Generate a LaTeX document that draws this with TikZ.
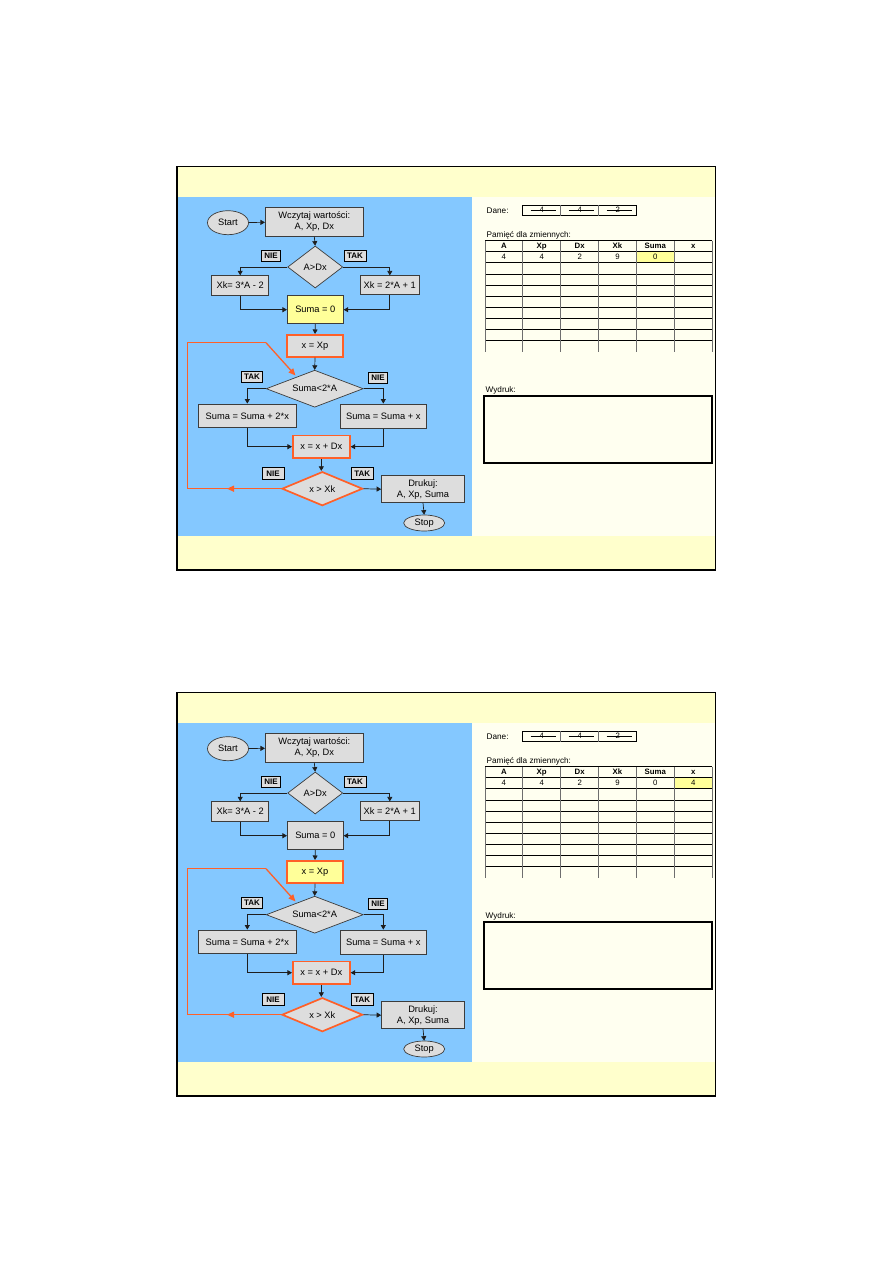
\documentclass[tikz,border=0pt]{standalone}
\usepackage{fontspec}
\setmainfont{Liberation Sans}
\usetikzlibrary{shapes.geometric,arrows.meta,calc}
\definecolor{slblue}{RGB}{132,200,255}
\definecolor{hdryellow}{RGB}{255,255,204}
\definecolor{cream}{RGB}{255,255,240}
\definecolor{boxgray}{RGB}{221,221,221}
\definecolor{boxline}{RGB}{60,60,60}
\definecolor{hiyellow}{RGB}{255,255,153}
\definecolor{hotorange}{RGB}{255,96,40}
\definecolor{flowline}{RGB}{30,30,30}
\definecolor{gridgray}{RGB}{110,110,110}
\tikzset{
  proc/.style={rectangle, draw=boxline, fill=boxgray, line width=0.7pt, inner sep=0pt, align=center, font=\fontsize{9.3}{11}\selectfont},
  term/.style={ellipse, draw=boxline, fill=boxgray, line width=0.7pt, inner sep=0pt, font=\fontsize{9.3}{11}\selectfont},
  dec/.style={diamond, draw=boxline, fill=boxgray, line width=0.7pt, inner sep=0pt, font=\fontsize{9.3}{11}\selectfont},
  hot/.style={draw=hotorange, line width=1.7pt},
  lbl/.style={rectangle, draw=black, fill=boxgray, line width=0.8pt, inner sep=0pt, minimum height=11.5pt, font=\bfseries\fontsize{8}{8.5}\selectfont},
  flow/.style={draw=flowline, line width=0.7pt, -{Triangle[length=4.5pt,width=5pt]}},
  loopline/.style={draw=hotorange, line width=1.3pt},
  loopend/.style={draw=hotorange, line width=1.3pt, -{Triangle[length=7pt,width=6pt]}},
  small/.style={inner sep=0pt, font=\fontsize{8.2}{9}\selectfont},
  tabtxt/.style={inner sep=0pt, text height=5.7pt, text depth=1.7pt, font=\fontsize{7.8}{8.5}\selectfont},
  tabhdr/.style={inner sep=0pt, text height=5.7pt, text depth=1.7pt, font=\bfseries\fontsize{7.8}{8.5}\selectfont},
}
% #1 prefix, #2 yshift, #3 fill Suma=0, #4 fill x=Xp, #5 fill Suma cell, #6 fill x cell, #7 x cell value
\newcommand\drawslide[7]{%
\begin{scope}[yshift=#2]
  % slide background
  \fill[hdryellow] (176.7,166.7) rectangle (715.7,570);
  \fill[slblue] (178,196.7) rectangle (472,536);
  \fill[cream] (472,196.7) rectangle (715.7,536);
  \draw[black,line width=1pt] (176.7,166.7) rectangle (715.7,570);
  \draw[black,line width=2.2pt] (176.7,166.7) -- (176.7,570) -- (715.7,570);
  % flowchart nodes
  \node[term, minimum width=41pt, minimum height=24pt] (#1start) at (228,222.7) {Start};
  \node[proc, minimum width=98pt, minimum height=29pt] (#1read) at (314.3,221.8) {Wczytaj wartości:\\A, Xp, Dx};
  \node[dec, minimum width=55pt, minimum height=42pt, aspect=1.3] (#1d1) at (315.2,267) {A>Dx};
  \node[lbl, minimum width=18.5pt] (#1nie1) at (271,256) {NIE};
  \node[lbl, minimum width=22pt] (#1tak1) at (355,256) {TAK};
  \node[proc, minimum width=57pt, minimum height=19.7pt] (#1xkL) at (240.2,285.5) {Xk= 3*A - 2};
  \node[proc, minimum width=59pt, minimum height=18.5pt] (#1xkR) at (389.8,285) {Xk = 2*A + 1};
  \node[proc, fill=#3, minimum width=56pt, minimum height=28pt] (#1suma0) at (315.3,309.7) {Suma = 0};
  \node[proc, hot, fill=#4, minimum width=56pt, minimum height=22pt] (#1xxp) at (315,345.8) {x = Xp};
  \node[dec, minimum width=97pt, minimum height=37pt, aspect=2.6] (#1d2) at (314.7,388.7) {Suma<2*A};
  \node[lbl, minimum width=21pt] (#1tak2) at (252,377) {TAK};
  \node[lbl, minimum width=19pt] (#1nie2) at (378,377.8) {NIE};
  \node[proc, minimum width=98pt, minimum height=23.7pt] (#1s2x) at (247.3,415.8) {Suma = Suma + 2*x};
  \node[proc, minimum width=86pt, minimum height=24.7pt] (#1sx) at (383.3,416.3) {Suma = Suma + x};
  \node[proc, hot, minimum width=57pt, minimum height=22.5pt] (#1xdx) at (321.3,446.7) {x = x + Dx};
  \node[dec, hot, minimum width=80.7pt, minimum height=34pt, aspect=2.4] (#1d3) at (322.3,488.7) {x > Xk};
  \node[lbl, minimum width=22pt] (#1nie3) at (273,473.3) {NIE};
  \node[lbl, minimum width=22pt] (#1tak3) at (362.3,473.3) {TAK};
  \node[proc, minimum width=83pt, minimum height=27pt] (#1druk) at (423,489.2) {Drukuj:\\A, Xp, Suma};
  \node[term, minimum width=41pt, minimum height=16pt] (#1stop) at (424.2,523) {Stop};
  % connectors
  \draw[flow] (#1start) -- (#1read);
  \draw[flow] (#1read.south) -- (#1d1.north);
  \draw[flow] (#1d1.west) -| (#1xkL.north);
  \draw[flow] (#1d1.east) -| (#1xkR.north);
  \draw[flow] (#1xkL.south) |- (#1suma0.west);
  \draw[flow] (#1xkR.south) |- (#1suma0.east);
  \draw[flow] (#1suma0.south) -- (#1xxp.north);
  \draw[flow] (#1xxp.south) -- (#1d2.north);
  \draw[flow] (#1d2.west) -| (#1s2x.north);
  \draw[flow] (#1d2.east) -| (#1sx.north);
  \draw[flow] (#1s2x.south) |- (#1xdx.west);
  \draw[flow] (#1sx.south) |- (#1xdx.east);
  \draw[flow] (#1xdx.south) -- (#1xdx.south |- #1d3.north);
  \draw[flow] (#1d3.east) -- (#1druk.west);
  \draw[flow] (#1druk.south) -- (#1stop.north);
  % orange loop back
  \coordinate (#1la) at (187.7,488.7);
  \coordinate (#1lb) at (187.7,342.7);
  \coordinate (#1lc) at (266,342.7);
  \coordinate (#1ld) at (295.5,375.5);
  \coordinate (#1lm) at (227,488.7);
  \draw[loopline] (#1d3.west) -- (#1la) -- (#1lb) -- (#1lc);
  \draw[loopend] (#1lc) -- (#1ld);
  \draw[loopend] (#1d3.west) -- (#1lm);
  % right panel: Dane
  \node[small, anchor=west] (#1dane) at (486.5,211) {Dane:};
  \draw[black, line width=0.8pt] (522.7,205) rectangle (636,215.7);
  \draw[gridgray, line width=0.6pt] (560.7,205) -- (560.7,215.7) (598.7,205) -- (598.7,215.7);
  \foreach \cx/\v [count=\k] in {522.7/4,560.7/4,598.7/2}{
    \node[tabtxt] (#1dv\k) at (\cx+19,210.4) {\v};
    \draw[black, line width=0.7pt] (\cx+8,210.4) -- (\cx+33,210.4);
  }
  % memory table
  \node[small, anchor=west] (#1pam) at (486.5,235.5) {Pamięć dla zmiennych:};
  \fill[#5] (636.3,251.7) rectangle (674.3,262.7);
  \fill[#6] (674.3,251.7) rectangle (712.3,262.7);
  \foreach \yy in {240.7,251.7,262.7,274,285,296,307.3,318.3,329.3,340.7}{
    \draw[black, line width=0.7pt] (485,\yy) -- (712.3,\yy);
  }
  \foreach \xx in {485,522.7,560.7,598.7,636.3,674.3,712.3}{
    \draw[gridgray, line width=0.7pt] (\xx,240.7) -- (\xx,351.7);
  }
  \foreach \xx/\h/\v [count=\k] in {503.9/A/4,541.7/Xp/4,579.7/Dx/2,617.5/Xk/9,655.3/Suma/0,693.3/x/#7}{
    \node[tabhdr] (#1th\k) at (\xx,246.4) {\h};
    \node[tabtxt] (#1tv\k) at (\xx,257.4) {\v};
  }
  % Wydruk
  \node[small, anchor=west] (#1wyd) at (485.5,390.7) {Wydruk:};
  \draw[black, line width=1.8pt, fill=cream] (484.3,395.7) rectangle (712.3,462.7);
\end{scope}}

\begin{document}
\begin{tikzpicture}[x=1pt,y=-1pt]
  \useasboundingbox (0,0) rectangle (893,1263);
  \fill[white] (0,0) rectangle (893,1263);
  \drawslide{a}{0pt}{hiyellow}{boxgray}{hiyellow}{cream}{}
  \drawslide{b}{-526pt}{boxgray}{hiyellow}{cream}{hiyellow}{4}
\end{tikzpicture}
\end{document}
